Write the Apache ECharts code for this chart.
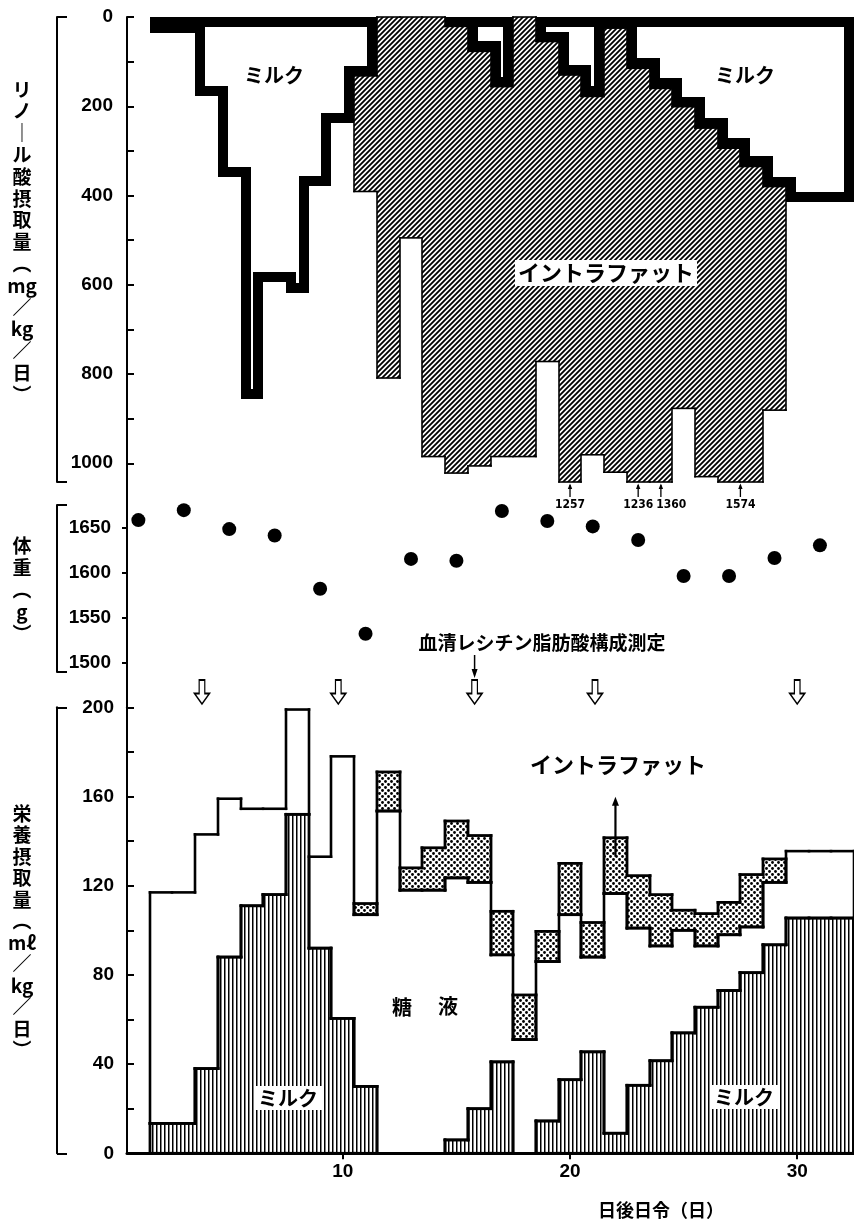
<!DOCTYPE html>
<html><head><meta charset="utf-8">
<script src="https://cdn.jsdelivr.net/npm/echarts@6/dist/echarts.min.js"></script>
<style>html,body{margin:0;padding:0;background:#fff}#c{width:854px;height:1224px}</style>
</head><body><div id="c"></div>
<script>
// ---------------- data ----------------
const days = [1,2,3,4,5,6,7,8,9,10,11,12,13,14,15,16,17,18,19,20,21,22,23,24,25,26,27,28,29,30,31,32];
// Top panel: linoleic acid intake (mg/kg/day)
const laMilk  = [null,36,36,178,358,856,593,619,378,237,132,0,0,0,21,77,156,0,55,130,178,25,115,160,201,249,294,335,380,414,414,414];
const laTotal = [null,36,36,178,358,856,593,619,378,237,391,809,495,985,1022,1006,985,985,772,1257,981,1020,1236,1360,877,1030,1574,1574,881,414,414,414];
const clipNoteDays = [20,23,24,27.5];
const clipNoteText = ['1257','1236','1360','1574'];
// Middle panel: body weight (g)
const weightDays = [1,3,5,7,9,11,13,15,17,19,21,23,25,27,29,31];
const weight = [1658,1669,1648,1641,1582,1532,1615,1613,1668,1657,1651,1636,1596,1596,1616,1630];
// serum lecithin fatty-acid measurement days
const measureDays = [3.8,9.8,15.8,21.1,30.0];
// Bottom panel: nutrient intake (ml/kg/day), cumulative tops
const nutMilk     = [null,13.4,13.4,38,88,111,116,152,92,60.5,30,0,0,0,6,20,41,0,14.5,33,45.5,9,30.5,41.5,54,65.5,73,81,93.5,105.5,105.5,105.5];
const nutSugarTop = [null,117,117,143,159,154.5,154.5,199,133,178,107,153.5,118,118,123.5,121.5,89,51,86,107,88,116.5,101,93,100,93,98,101.5,121.5,135.5,135.5,135.5];
const nutFatTop   = [null,117,117,143,159,154.5,154.5,199,133,178,112,171,128,137,149,142.5,108.5,71,99.5,130,103.5,141.5,124.5,116,109,107.5,112.5,125,132,135.5,135.5,135.5];
const yTicksTop = [0,100,200,300,400,500,600,700,800,900,1000];
const yLabelsTop = [0,200,400,600,800,1000];
const yLabelsW = [1500,1550,1600,1650];
const yLabelsBot = [0,40,80,120,160,200];
const xLabels = [10,20,30];

// ---------------- helpers ----------------
const TOPMAX = 1042;
const NUM_FONT = 'Liberation Sans, Arial, sans-serif';
const JP = '"Noto Sans CJK JP", "Noto Sans CJK SC", sans-serif';
function makeCanvas(w,h,draw){const c=document.createElement('canvas');c.width=w;c.height=h;const g=c.getContext('2d');g.fillStyle='#fff';g.fillRect(0,0,w,h);draw(g);return c;}
const hatch = {image: makeCanvas(5,5,g=>{g.strokeStyle='#000';g.lineWidth=1.8;g.beginPath();g.moveTo(0,5);g.lineTo(5,0);g.moveTo(-2.5,2.5);g.lineTo(2.5,-2.5);g.moveTo(2.5,7.5);g.lineTo(7.5,2.5);g.stroke();}), repeat:'repeat'};
const vlines = {image: makeCanvas(4,4,g=>{g.fillStyle='#000';g.fillRect(0,0,1.5,4);}), repeat:'repeat'};
const dots = {image: makeCanvas(6,6,g=>{g.fillStyle='#000';[[1.5,1.5],[4.5,4.5]].forEach(([x,y])=>{g.beginPath();g.arc(x,y,1.4,0,Math.PI*2);g.fill();});}), repeat:'repeat'};

function intervalAt(lo, up, k, cap){
  if (k<0 || k>=up.length) return null;
  const a = lo ? lo[k] : 0, b = up[k];
  if (a==null || b==null) return null;
  const A = Math.min(a,cap), B = Math.min(b,cap);
  return B > A + 1e-9 ? [A,B] : null;
}
function symDiff(A,B){
  if(!A && !B) return [];
  if(!A) return [B];
  if(!B) return [A];
  if(A[1] < B[0] || B[1] < A[0]) return [A,B];
  const out=[];
  if(A[0]!==B[0]) out.push([Math.min(A[0],B[0]),Math.max(A[0],B[0])]);
  if(A[1]!==B[1]) out.push([Math.min(A[1],B[1]),Math.max(A[1],B[1])]);
  return out;
}
function stepFill(lo, up, fill, cap){
  return (params, api) => {
    const i = params.dataIndex, d = api.value(0);
    const iv = intervalAt(lo, up, i, cap);
    if(!iv) return {type:'group', children:[]};
    const p0 = api.coord([d-0.5, iv[0]]), p1 = api.coord([d+0.5, iv[1]]);
    const xa = Math.round(p0[0]), xb = Math.round(p1[0]);
    return {type:'rect', shape:{x:xa, y:Math.min(p0[1],p1[1]), width:xb-xa, height:Math.abs(p1[1]-p0[1])}, style:{fill}};
  };
}
function stepEdge(lo, up, width, cap){
  return (params, api) => {
    const i = params.dataIndex, d = api.value(0);
    const cur = intervalAt(lo,up,i,cap), prev = intervalAt(lo,up,i-1,cap);
    const xl = Math.round(api.coord([d-0.5,0])[0]), xr = Math.round(api.coord([d+0.5,0])[0]);
    const Y = v => api.coord([d,v])[1];
    const st = {stroke:'#000', lineWidth:width, lineCap:'square'};
    const ch = [];
    const seg = (x1,y1,x2,y2) => ch.push({type:'line', shape:{x1,y1,x2,y2}, style:st});
    if(cur){ seg(xl,Y(cur[1]),xr,Y(cur[1])); seg(xl,Y(cur[0]),xr,Y(cur[0])); }
    symDiff(prev,cur).forEach(([a,b]) => seg(xl,Y(a),xl,Y(b)));
    if(cur && i===up.length-1) seg(xr,Y(cur[0]),xr,Y(cur[1]));
    return {type:'group', children:ch};
  };
}
function dataOf(arr){ return days.map((d,i)=>[d, arr[i]==null?0:arr[i]]); }
function custom(xi, yi, arr, render, z){
  return {type:'custom', xAxisIndex:xi, yAxisIndex:yi, data:dataOf(arr), encode:{x:0,y:1}, renderItem:render, z:z, silent:true, clip:false};
}
// thick milk outline drawn inside the region (pixel-snapped)
function milkThick(params, api){
  const i = params.dataIndex, d = api.value(0);
  const f = k => (k>=0 && k<laMilk.length && laMilk[k]) ? laMilk[k] : 0;
  const fv = f(i);
  if(!fv) return {type:'group', children:[]};
  const T = 10;
  const x0 = Math.round(api.coord([d-0.5,0])[0]), x1 = Math.round(api.coord([d+0.5,0])[0]);
  const y0 = Math.round(api.coord([d,0])[1]);
  const yOf = v => Math.round(api.coord([d,v])[1]);
  const ch = [{type:'rect', shape:{x:x0, y:y0, width:x1-x0, height:yOf(fv)-y0}, style:{fill:'#000'}}];
  const white = (xa,xb,yb) => { if(xb>xa && yb>y0+T) ch.push({type:'rect', shape:{x:xa, y:y0+T, width:xb-xa, height:yb-(y0+T)}, style:{fill:'#fff'}}); };
  white(x0+T, x1-T, yOf(fv)-T);
  white(x0, x0+T, yOf(Math.min(fv,f(i-1)))-T);
  white(x1-T, x1, yOf(Math.min(fv,f(i+1)))-T);
  return {type:'group', children:ch};
}
function clipNotes(params, api){
  const i = params.dataIndex, d = api.value(0);
  const p = api.coord([d, TOPMAX]);
  let tx = p[0];
  if(i>0){ const pp = api.coord([clipNoteDays[i-1], TOPMAX])[0]; if(tx-pp < 28) tx = pp + 33; }
  const st = {stroke:'#000', lineWidth:1.3};
  return {type:'group', children:[
    {type:'line', shape:{x1:p[0], y1:p[1]+3, x2:p[0], y2:p[1]+15}, style:st},
    {type:'polygon', shape:{points:[[p[0]-2.2,p[1]+7],[p[0]+2.2,p[1]+7],[p[0],p[1]+1.5]]}, style:{fill:'#000'}},
    {type:'text', style:{text:clipNoteText[i], x:tx, y:p[1]+23, textAlign:'center', textVerticalAlign:'middle', font:'bold 12px "DejaVu Sans Condensed", "Liberation Sans Narrow", sans-serif', fill:'#000'}}
  ]};
}

// ---------------- chart ----------------
const chart = echarts.init(document.getElementById('c'), null, {renderer:'canvas', width:854, height:1224});
const G = {left:127, width:732};
const xBase = {type:'value', min:0.5, max:32.5, show:false};
const plain = v => String(v);
const lblStyle = {color:'#000', fontFamily:NUM_FONT, fontWeight:'bold', fontSize:19, formatter:plain};
const bracket = (gi) => ({type:'value', gridIndex:gi, position:'left', offset:70, min:0, max:1, interval:1,
  axisLine:{show:true, lineStyle:{color:'#000', width:2}}, axisTick:{show:true, inside:true, length:10, lineStyle:{color:'#000', width:2}},
  axisLabel:{show:false}, splitLine:{show:false}});

const option = {
  animation:false,
  backgroundColor:'#fff',
  grid:[
    {left:G.left, width:G.width, top:17, height:465},
    {left:G.left, width:G.width, top:482, height:225.3},
    {left:G.left, width:G.width, top:707.3, height:446},
    {left:G.left, width:G.width, top:678, height:28},
    {left:G.left, width:G.width, top:505, height:167}
  ],
  xAxis:[
    Object.assign({gridIndex:0}, xBase),
    Object.assign({gridIndex:1}, xBase),
    {type:'value', gridIndex:2, min:0.5, max:32.5,
      axisLine:{show:true, onZero:false, lineStyle:{color:'#000', width:3}},
      axisTick:{show:true, inside:false, length:6, customValues:xLabels, lineStyle:{color:'#000', width:2}},
      axisLabel:Object.assign({customValues:xLabels, margin:9}, lblStyle),
      splitLine:{show:false}},
    Object.assign({gridIndex:3}, xBase),
    Object.assign({gridIndex:4}, xBase)
  ],
  yAxis:[
    {type:'value', gridIndex:0, inverse:true, min:0, max:TOPMAX,
      axisLine:{show:true, lineStyle:{color:'#000', width:2}},
      axisTick:{show:true, inside:true, length:7, customValues:yTicksTop, lineStyle:{color:'#000', width:2}},
      axisLabel:Object.assign({customValues:yLabelsTop, margin:14}, lblStyle),
      splitLine:{show:false}},
    bracket(0),
    {type:'value', gridIndex:1, min:1450.6, max:1700.2,
      axisLine:{show:true, lineStyle:{color:'#000', width:2}},
      axisTick:{show:true, inside:false, length:5, customValues:yLabelsW, lineStyle:{color:'#000', width:2}},
      axisLabel:Object.assign({customValues:yLabelsW, margin:16}, lblStyle),
      splitLine:{show:false}},
    bracket(4),
    {type:'value', gridIndex:2, min:0, max:200, interval:20,
      axisLine:{show:true, lineStyle:{color:'#000', width:2}},
      axisTick:{show:true, inside:true, length:7, lineStyle:{color:'#000', width:2}},
      axisLabel:Object.assign({customValues:yLabelsBot, margin:13}, lblStyle),
      splitLine:{show:false}},
    bracket(2),
    {type:'value', gridIndex:3, min:0, max:1, show:false}
  ],
  series:[
    // top panel
    custom(0,0,laTotal, stepFill(laMilk, laTotal, hatch, TOPMAX), 2),
    custom(0,0,laTotal, stepEdge(laMilk, laTotal, 1.6, TOPMAX), 3),
    custom(0,0,laMilk, milkThick, 4),
    {type:'custom', xAxisIndex:0, yAxisIndex:0, data:clipNoteDays.map((d,i)=>[d, clipNoteText[i]*1]), encode:{x:0,y:1}, renderItem:clipNotes, z:5, clip:false, silent:true},
    // middle panel
    {type:'scatter', xAxisIndex:1, yAxisIndex:2, data:weightDays.map((d,i)=>[d, weight[i]]), symbol:'circle', symbolSize:14, itemStyle:{color:'#000', opacity:1}, z:3, silent:true},
    // measurement arrows
    {type:'scatter', xAxisIndex:3, yAxisIndex:6, data:measureDays.map(d=>[d,0.5]), symbol:'path://M5,0 L11,0 L11,14 L16,14 L8,25 L0,14 L5,14 Z', symbolSize:[15,24], itemStyle:{color:'#fff', borderColor:'#000', borderWidth:1.5, opacity:1}, z:3, silent:true},
    // bottom panel
    custom(2,4,nutMilk, stepFill(null, nutMilk, vlines, 1e9), 2),
    custom(2,4,nutFatTop, stepFill(nutSugarTop, nutFatTop, dots, 1e9), 2),
    custom(2,4,nutMilk, stepEdge(null, nutMilk, 2.8, 1e9), 3),
    custom(2,4,nutSugarTop, stepEdge(nutMilk, nutSugarTop, 2.6, 1e9), 3),
    custom(2,4,nutFatTop, stepEdge(nutSugarTop, nutFatTop, 2.8, 1e9), 3)
  ]
};
chart.setOption(option);

// ---------------- annotations ----------------
function txt(text, x, y, size, extra){
  return {type:'text', z:50, style:Object.assign({text, x, y, textAlign:'center', textVerticalAlign:'middle', font:'bold '+size+'px '+JP, fill:'#000'}, extra||{})};
}
const p3 = chart.convertToPixel({gridIndex:3}, [measureDays[2], 0.5]);
const fa0 = chart.convertToPixel({gridIndex:2}, [22, 133]);
const fa1 = chart.convertToPixel({gridIndex:2}, [22, 159]);
const vname = (chars, x, yc, lh) => txt(chars.join('\n'), x, yc, 19, {lineHeight:lh});
chart.setOption({graphic:[
  vname(['リ','ノ','｜','ル','酸','摂','取','量','︵','mg','／','kg','／','日','︶'], 22, 242, 21.8),
  vname(['体','重','︵','g','︶'], 22, 590, 22),
  vname(['栄','養','摂','取','量','︵','mℓ','／','kg','／','日','︶'], 22, 932, 21.5),
  txt('ミルク', 274, 75, 20),
  txt('ミルク', 745, 75, 20),
  txt('イントラファット', 606, 273, 22, {backgroundColor:'#fff', padding:[2,3]}),
  txt('血清レシチン脂肪酸構成測定', 542, 643, 19),
  {type:'line', z:50, shape:{x1:p3[0], y1:655, x2:p3[0], y2:672}, style:{stroke:'#000', lineWidth:1.5}},
  {type:'polygon', z:50, shape:{points:[[p3[0]-3,669],[p3[0]+3,669],[p3[0],678]]}, style:{fill:'#000'}},
  txt('イントラファット', 618, 765, 22),
  {type:'line', z:50, shape:{x1:fa0[0], y1:fa0[1], x2:fa1[0], y2:fa1[1]+5}, style:{stroke:'#000', lineWidth:2.2}},
  {type:'polygon', z:50, shape:{points:[[fa1[0]-3.5,fa1[1]+7],[fa1[0]+3.5,fa1[1]+7],[fa1[0],fa1[1]-2]]}, style:{fill:'#000'}},
  txt('糖', 402, 1007, 20),
  txt('液', 448, 1006, 20),
  txt('ミルク', 288, 1098, 20, {backgroundColor:'#fff', padding:[2,4]}),
  txt('ミルク', 744, 1097, 20, {backgroundColor:'#fff', padding:[2,4]}),
  txt('日後日令（日）', 661, 1210, 18)
]});
</script>
</body></html>
